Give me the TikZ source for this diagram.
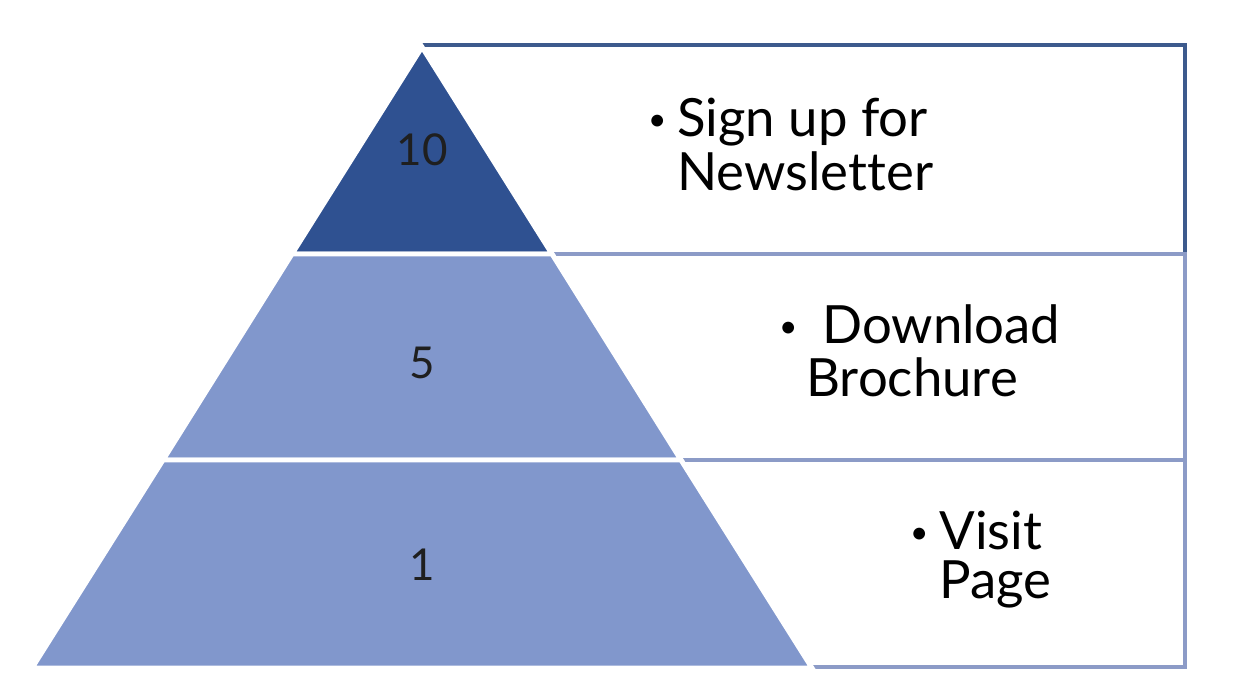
\documentclass[tikz,border=0pt]{standalone}
\usepackage{fontspec}
\setmainfont{Lato}[Ligatures=NoCommon]
\usetikzlibrary{positioning}
\definecolor{darkblue}{HTML}{2F5191}
\definecolor{lightblue}{HTML}{8197CC}
\definecolor{darkline}{HTML}{3D5A8D}
\definecolor{lightline}{HTML}{8C9BC7}
\newcommand{\dotmark}{\raisebox{3pt}{\fontsize{18}{18}\selectfont\textbullet}}

\begin{document}
\begin{tikzpicture}[x=0.02cm,y=-0.02cm]
\tikzstyle{tier}=[draw=white,line width=2.8pt]
\tikzstyle{frame}=[line width=2.7pt]
\tikzstyle{level}=[font=\fontsize{25}{25}\selectfont,text=black!88]
\tikzstyle{goal}=[anchor=base west,inner sep=0pt,font=\fontsize{30}{30}\selectfont]

\useasboundingbox (0,0) rectangle (1240,698);

%-- Frames behind the pyramid --
\draw[frame, darkline] (422,45) -- (1185,45) -- (1185,254);
\draw[frame, lightline] (552,254) -- (1185,254) -- (1185,667) -- (810,667);
\draw[frame, lightline] (681,460) -- (1185,460);

%-- Tiers --
\fill[tier, fill=darkblue] (422,47) -- (552,254) -- (292,254) -- cycle;
\fill[tier, fill=lightblue] (292,254) -- (552,254) -- (681,460) -- (163,460) -- cycle;
\fill[tier, fill=lightblue] (163,460) -- (681,460) -- (812,668) -- (32,668) -- cycle;

%-- Points --
\node[level] (n10) at (422,150) {10};
\node[level] (n5) at (422,363) {5};
\node[level] (n1) at (422,565) {1};

%-- Actions --
\node[goal] (signup) at (677,136) {\llap{\dotmark\hspace{0.22cm}}Sign up for};
\node[goal] (newsletter) at (677,190) {Newsletter};
\node[goal] (download) at (822,343) {\llap{\dotmark\hspace{0.5cm}}Download};
\node[goal] (brochure) at (806,396) {Brochure};
\node[goal] (visit) at (939,549) {\llap{\dotmark\hspace{0.22cm}}Visit};
\node[goal] (page) at (939,598) {Page};

\end{tikzpicture}
\end{document}
